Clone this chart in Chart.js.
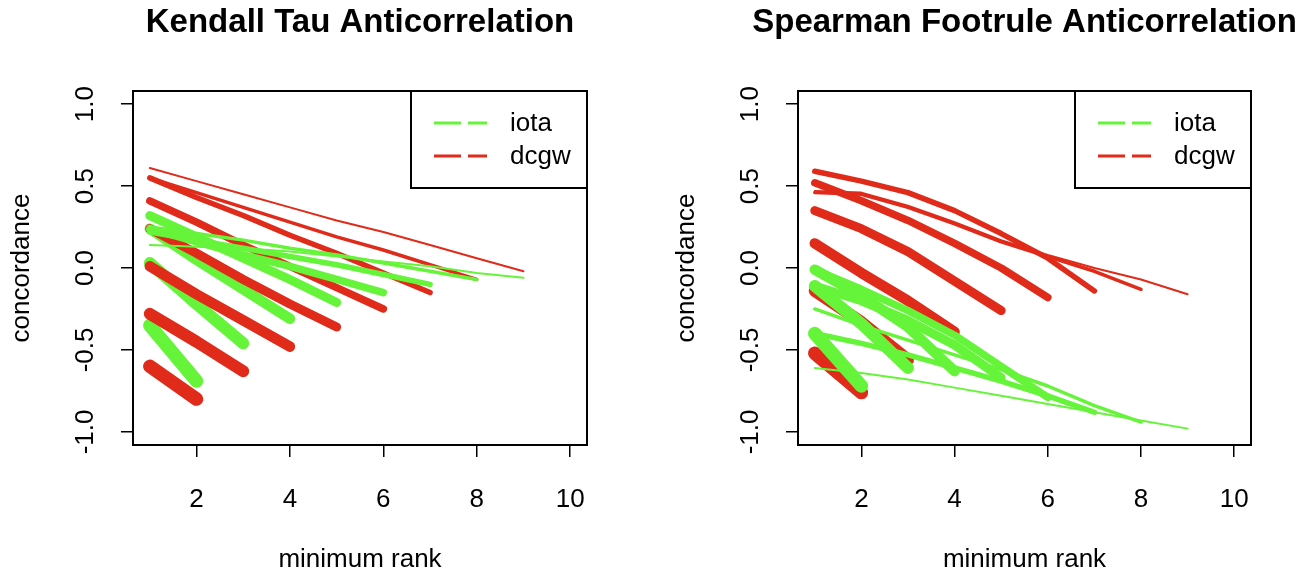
<!DOCTYPE html>
<html>
<head>
<meta charset="utf-8">
<script src="https://cdn.jsdelivr.net/npm/chart.js@4.4.1/dist/chart.umd.min.js"></script>
<style>
  html, body { margin: 0; padding: 0; background: #fff; }
  #stage { position: relative; width: 1305px; height: 576px; }
  .panel { position: absolute; left: 0; top: 0; width: 1305px; height: 576px; }
</style>
</head>
<body>
<div id="stage">
  <div class="panel"><canvas id="kendallChart"></canvas></div>
  <div class="panel"><canvas id="footruleChart"></canvas></div>
</div>
<script>
const ranks = [1, 2, 3, 4, 5, 6, 7, 8, 9];
const xTicks = [2, 4, 6, 8, 10];
const yTicks = [-1, -0.5, 0, 0.5, 1];
const yTickLabels = ['-1.0', '-0.5', '0.0', '0.5', '1.0'];
const seriesNames = ['iota', 'dcgw'];

// one row per curve, running from rank 1 up to rank 2, 3, ... 9
const kendallIota = [
  [-0.35, -0.69],
  [0.03, -0.22, -0.46],
  [0.24, 0.05, -0.13, -0.31],
  [0.32, 0.19, 0.06, -0.07, -0.21],
  [0.24, 0.16, 0.08, 0.01, -0.07, -0.15],
  [0.22, 0.17, 0.12, 0.07, 0.02, -0.04, -0.10],
  [0.25, 0.21, 0.17, 0.12, 0.08, 0.03, -0.02, -0.07],
  [0.14, 0.13, 0.12, 0.10, 0.07, 0.04, 0.01, -0.03, -0.06],
];

const kendallDcgw = [
  [-0.60, -0.80],
  [-0.28, -0.45, -0.63],
  [0.01, -0.16, -0.32, -0.48],
  [0.24, 0.09, -0.07, -0.22, -0.36],
  [0.41, 0.28, 0.14, 0.01, -0.12, -0.25],
  [0.55, 0.43, 0.32, 0.20, 0.09, -0.03, -0.15],
  [0.55, 0.46, 0.37, 0.28, 0.19, 0.11, 0.02, -0.07],
  [0.61, 0.53, 0.45, 0.37, 0.29, 0.22, 0.14, 0.06, -0.02],
];

const footruleIota = [
  [-0.40, -0.72],
  [-0.11, -0.34, -0.61],
  [-0.01, -0.17, -0.36, -0.63],
  [-0.11, -0.20, -0.32, -0.47, -0.67],
  [-0.01, -0.13, -0.26, -0.41, -0.60, -0.79],
  [-0.40, -0.46, -0.53, -0.61, -0.69, -0.78, -0.88],
  [-0.25, -0.35, -0.44, -0.53, -0.62, -0.72, -0.84, -0.94],
  [-0.61, -0.64, -0.68, -0.73, -0.78, -0.83, -0.88, -0.93, -0.98],
];

const footruleDcgw = [
  [-0.52, -0.76],
  [-0.14, -0.33, -0.56],
  [0.15, -0.03, -0.20, -0.39],
  [0.35, 0.24, 0.10, -0.08, -0.26],
  [0.52, 0.41, 0.29, 0.15, 0.00, -0.18],
  [0.59, 0.53, 0.46, 0.35, 0.21, 0.06, -0.14],
  [0.46, 0.45, 0.37, 0.27, 0.16, 0.07, -0.02, -0.13],
  [0.47, 0.46, 0.38, 0.28, 0.17, 0.08, 0.00, -0.07, -0.16],
];

const GREEN = '#66f43a';
const RED = '#e02a1a';
const lineWidths = [13.5, 12, 10.5, 9, 7.5, 5.5, 3.5, 2];
const FONT = '"Liberation Sans", Arial, Helvetica, sans-serif';

const panelDecor = {
  id: 'panelDecor',
  afterDraw(chart, args, opts) {
    const { ctx, chartArea: a, scales } = chart;
    const cx = (a.left + a.right) / 2;
    ctx.save();
    ctx.fillStyle = '#000';
    ctx.strokeStyle = '#000';
    ctx.lineWidth = 2;
    ctx.strokeRect(a.left, a.top, a.right - a.left, a.bottom - a.top);

    ctx.textAlign = 'center';
    ctx.textBaseline = 'middle';
    ctx.font = `bold 33px ${FONT}`;
    ctx.fillText(opts.title, cx, 23);

    ctx.font = `26px ${FONT}`;
    xTicks.forEach((v) => ctx.fillText(String(v), scales.x.getPixelForValue(v), 500));
    ctx.fillText('minimum rank', cx, 560);

    yTicks.forEach((v, i) => {
      ctx.save();
      ctx.translate(a.left - 47, scales.y.getPixelForValue(v));
      ctx.rotate(-Math.PI / 2);
      ctx.fillText(yTickLabels[i], 0, 0);
      ctx.restore();
    });

    ctx.save();
    ctx.translate(a.left - 111, (a.top + a.bottom) / 2);
    ctx.rotate(-Math.PI / 2);
    ctx.fillText('concordance', 0, 0);
    ctx.restore();

    // legend, top right corner of the plot box
    const lx = a.right - 176;
    const ly = a.top;
    ctx.strokeRect(lx, ly, 176, 97);
    [GREEN, RED].forEach((color, i) => {
      const y = ly + 32 + i * 33;
      ctx.save();
      ctx.strokeStyle = color;
      ctx.lineWidth = 3;
      ctx.setLineDash([27, 7]);
      ctx.beginPath();
      ctx.moveTo(lx + 23, y);
      ctx.lineTo(lx + 76, y);
      ctx.stroke();
      ctx.restore();
      ctx.textAlign = 'left';
      ctx.fillText(seriesNames[i], lx + 99, y + 1);
    });
    ctx.restore();
  },
};

function buildDatasets(iotaLines, dcgwLines) {
  const drawOrder = [];
  iotaLines.forEach((_, i) => {
    [[dcgwLines[i], RED], [iotaLines[i], GREEN]].forEach(([values, color]) => {
      drawOrder.push({
        data: values.map((y, j) => ({ x: ranks[j], y })),
        borderColor: color,
        borderWidth: lineWidths[i],
        borderCapStyle: 'round',
        borderJoinStyle: 'round',
        pointRadius: 0,
        tension: 0,
        fill: false,
      });
    });
  });
  // chart.js paints the first dataset last
  return drawOrder.reverse();
}

function makePanel(id, title, iotaLines, dcgwLines, box) {
  new Chart(document.getElementById(id), {
    type: 'line',
    data: { datasets: buildDatasets(iotaLines, dcgwLines) },
    options: {
      responsive: true,
      maintainAspectRatio: false,
      animation: false,
      events: [],
      layout: {
        padding: { left: box.left - 12, right: 1305 - box.right, top: box.top, bottom: 0 },
      },
      scales: {
        x: {
          type: 'linear',
          min: 0.64,
          max: 10.36,
          afterBuildTicks: (scale) => { scale.ticks = xTicks.map((value) => ({ value })); },
          afterFit: (scale) => { scale.height = 576 - box.bottom; },
          ticks: { display: false },
          border: { display: false },
          grid: { drawOnChartArea: false, drawTicks: true, tickLength: 12, color: '#000', lineWidth: 1.5 },
        },
        y: {
          type: 'linear',
          min: -1.08,
          max: 1.08,
          afterBuildTicks: (scale) => { scale.ticks = yTicks.map((value) => ({ value })); },
          afterFit: (scale) => { scale.width = 12; },
          ticks: { display: false },
          border: { display: false },
          grid: { drawOnChartArea: false, drawTicks: true, tickLength: 12, color: '#000', lineWidth: 1.5 },
        },
      },
      plugins: {
        legend: { display: false },
        tooltip: { enabled: false },
        panelDecor: { title },
      },
    },
    plugins: [panelDecor],
  });
}

makePanel('kendallChart', 'Kendall Tau Anticorrelation', kendallIota, kendallDcgw,
  { left: 133, right: 587, top: 91, bottom: 445 });
makePanel('footruleChart', 'Spearman Footrule Anticorrelation', footruleIota, footruleDcgw,
  { left: 798, right: 1251, top: 91, bottom: 445 });
</script>
</body>
</html>
